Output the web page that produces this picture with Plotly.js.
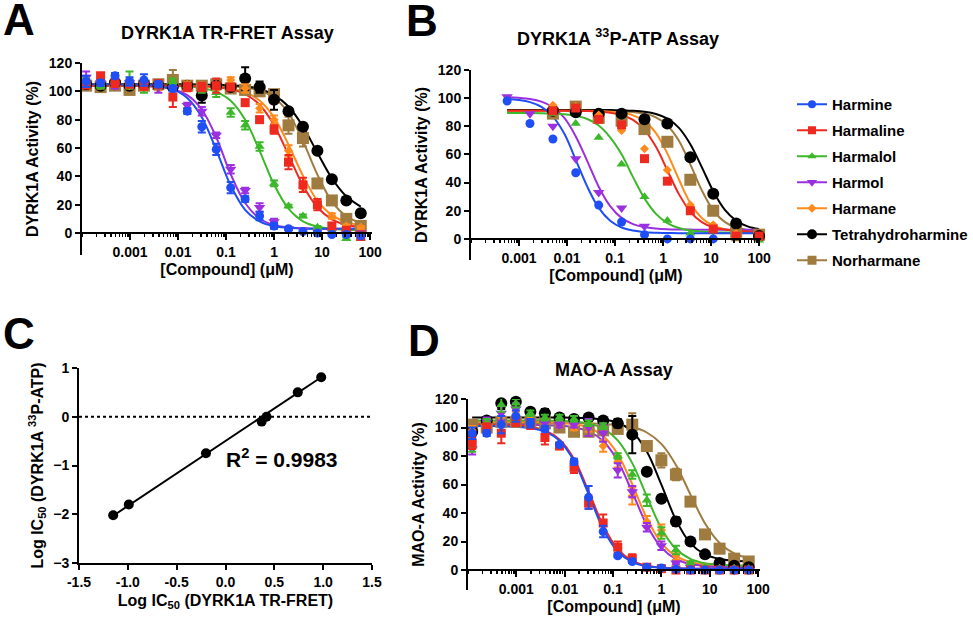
<!DOCTYPE html>
<html><head><meta charset="utf-8">
<script src="https://cdn.plot.ly/plotly-3.0.1.min.js"></script>
<style>html,body{margin:0;padding:0;background:#fff}#chart{width:973px;height:618px}</style>
</head><body><div id="chart"></div>
<script>
// ---------------- DATA ----------------
const compounds = ['Harmine','Harmaline','Harmalol','Harmol','Harmane','Tetrahydroharmine','Norharmane'];

// Panel A / D concentrations (uM), 2-fold series
const concAD = [0.000122,0.000244,0.000488,0.000977,0.00195,0.0039,0.0078,0.0156,0.03125,0.0625,0.125,0.25,0.5,1,2,4,8,16,32,64];
// Panel B concentrations (uM), 3-fold series
const concB = [0.000565,0.00169,0.00508,0.0152,0.0457,0.137,0.411,1.23,3.7,11.1,33.3,100];
const concB_fit = [0.000565,0.000978,0.00169,0.00293,0.00508,0.0088,0.0152,0.0264,0.0457,0.0792,0.137,0.237,0.411,0.712,1.23,2.14,3.7,6.41,11.1,19.2,33.3,57.6,100];

// Panel A: DYRK1A TR-FRET
const harmine_A      = [107,106,111,107,108,105,102,86,75,59,32,24,12,5,3,1,0,-1,-1,-2];
const harmine_A_err  = [4,2,2,3,4,2,2,2,4,4,4,2,3,2,1,1,1,1,1,1];
const harmaline_A    = [105,111,106,105,104,105,96,103,103,104,103,92,80,73,50,34,20,5,2,-2];
const harmaline_A_err= [3,2,3,2,3,3,7,3,3,5,2,2,2,3,5,5,4,2,2,3];
const harmalol_A     = [106,104,108,108,102,104,107,104,102,99,85,76,61,35,19,12,4,1,-4,-4];
const harmalol_A_err = [3,2,3,6,3,2,2,2,3,3,3,3,3,2,1,1,1,1,1,1];
const harmol_A       = [110,106,104,106,105,103,102,90,86,69,45,30,18,8,3,2,1,1,0,0];
const harmol_A_err   = [4,3,2,2,2,4,2,2,3,2,3,2,3,2,1,1,1,1,1,1];
const harmane_A      = [105,104,106,104,105,103,104,105,104,103,108,102,88,80,58,32,22,12,5,4];
const harmane_A_err  = [2,2,2,2,2,2,2,2,2,2,2,3,3,3,4,3,2,2,1,1];
const thh_A          = [105,104,106,104,105,104,103,104,97,104,103,109,103,94,86,75,58,38,23,14];
const thh_A_err      = [2,2,2,2,2,2,2,2,5,2,2,8,4,7,2,2,2,2,2,2];
const norharmane_A   = [104,103,104,101,104,105,108,104,104,105,102,101,100,98,76,67,35,23,10,5];
const norharmane_A_err=[2,3,2,3,2,3,7,2,2,2,2,2,2,3,6,6,3,2,2,2];

const harmine_A_fit    = [105,105,104.9,104.8,104.5,103.7,101.4,95.3,81.7,58.7,33.5,16.4,8.2,4.8,3.7,3.2,3.0,3.0,3.0,3.0];
const harmaline_A_fit  = [104,104,104,104,104,104,103.9,103.8,103.6,103.0,101.5,98.0,90.5,76.1,55.1,33.5,18.2,9.7,5.8,4.2];
const harmalol_A_fit   = [104,104,104,104,104,103.9,103.8,103.4,102.3,99.6,93.3,79.9,58.0,34.2,17.2,8.3,4.6,2.9,2.4,2.1];
const harmol_A_fit     = [104,104,104,103.9,103.7,103.1,101.5,97.3,87.2,67.6,41.5,21.2,10.3,5.7,4.0,3.3,3.1,3,3,3];
const harmane_A_fit    = [104,104,104,104,104,104,104,103.9,103.7,103.2,102.1,99.4,93.5,81.6,62.4,40.4,22.8,12.6,7.7,5.5];
const thh_A_fit        = [105,105,105,105,105,105,105,105,104.9,104.7,104.3,103.4,101.7,97.4,89.3,75.2,56.6,38.7,25.9,18.6];
const norharmane_A_fit = [104,104,104,104,104,104,104,104,104,104,103.5,102.7,100.6,95.6,84.5,64.9,41.2,22.3,11.8,7.1];

// Panel B: DYRK1A 33P-ATP
const harmine_B    = [98,82,71,47,24,12,3,0,0,0,null,null];
const harmaline_B  = [null,null,91,93,85,81,57,41,20,7,2,2];
const harmalol_B   = [null,null,89,82,72,53,30,13,4,1,0,-1];
const harmol_B     = [101,89,80,57,33,22,9,null,null,null,null,null];
const harmane_B    = [null,null,95,94,88,77,64,49,24,10,4,2];
const thh_B        = [null,null,91,90,89,89,85,82,58,32,11,2];
const norharmane_B = [null,null,89,94,86,84,78,69,42,20,5,3];

const harmine_B_fit    = [99.4,98.7,97.2,93.8,86.9,74.7,56.2,37.1,22.0,12.9,8.1,5.9,4.8,4.4,4.2,4,4,4,4,4,4,4,4];
const harmaline_B_fit  = [91,91,91,91,91,91,90.9,90.8,90.4,89.7,88.0,84.6,77.5,65.4,48.7,31.8,19.3,11.9,8.2,6.6,5.6,5.3,5.1];
const harmalol_B_fit   = [89.5,89.5,89.4,89.3,89.05,88.5,87.4,85.2,80.6,72.2,60.1,43.9,28.8,17.8,11.2,7.7,6.0,5.2,4.8,4.6,4.5,4.5,4.5];
const harmol_B_fit     = [100.6,100.2,99.4,97.5,93.5,85.9,72.8,55.3,37.1,23.3,14.9,10.5,8.4,7.4,6.9,6.7,6.6,6.5,6.5,6.5,6.5,6.5,6.5];
const harmane_B_fit    = [91,91,91,91,91,91,91,91,90.8,90.4,89.6,87.8,83.7,75.1,60.6,42.2,25.4,14.9,9.4,6.9,5.8,5.3,5.1];
const thh_B_fit        = [91.5,91.5,91.5,91.5,91.5,91.5,91.5,91.5,91.5,91.5,91.3,91,90.3,88.7,85.4,78.9,67.3,51.0,33.9,20.8,13.0,8.9,7.0];
const norharmane_B_fit = [91,91,91,91,91,91,91,91,91,90.7,90.6,90.1,89.0,86.4,80.6,69.7,52.9,34.5,20.3,12.1,8.1,6.3,5.5];

// Panel C: log IC50 correlation
const logIC50_FRET = [-1.15,-0.99,-0.20,0.37,0.42,0.74,0.98];
const logIC50_ATP  = [-2.02,-1.80,-0.75,-0.10,0.00,0.50,0.81];
const regression_x = [-1.15,0.98];
const regression_y = [-2.03,0.81];
const r2Label = 'R<sup>2</sup> = 0.9983';

// Panel D: MAO-A
const harmine_D      = [96,96,102,108,103,99,88,76,51,27,10,6,2,1.5,0.5,0,0,0,0,0];
const harmine_D_err  = [4,2,6,4,3,2,1,2,8,4,1,1,1,1,1,1,1,1,1,1];
const harmaline_D    = [89,100,96,104,102,93,87,72,47,33,16,8,2,1,0,0,0,0,0,0];
const harmaline_D_err= [4,3,7,3,3,5,1,4,4,6,4,3,1,1,1,1,1,1,1,1];
const harmalol_D     = [87,104,116,117,110,107,107,106,103,101,80,67,49,26,14,5,2,1,1,1];
const harmalol_D_err = [4,2,5,3,2,2,2,2,2,2,2,3,4,4,3,1,1,1,1,1];
const harmol_D       = [85,104,110,113,104,103,102,102,100,96,70,55,30,17,5,2,1,1,0,0];
const harmol_D_err   = [4,3,5,4,2,2,2,2,6,6,5,4,3,3,1,1,1,1,1,1];
const harmane_D      = [98,104,104,108,106,103,102,100,100,87,76,52,34,28,10,4,2,1,1,0];
const harmane_D_err  = [3,2,3,3,2,2,2,2,3,4,4,6,4,4,3,1,1,1,1,1];
const thh_D          = [97,105,117,118,111,110,107,106,107,105,103,95,69,50,34,20,11,5,3,2];
const thh_D_err      = [3,2,4,3,2,3,2,2,2,2,3,13,2,2,3,2,2,1,1,1];
const norharmane_D   = [102,100,104,104,104,103,100,97,97,98,99,102,87,77,67,48,25,15,8,6];
const norharmane_D_err=[2,2,2,2,2,2,2,3,3,2,2,8,3,5,4,3,2,2,2,2];

const harmine_D_fit    = [101,101,100.9,100.5,99.6,97.1,90.7,76.5,53.2,28.8,13.0,5.6,2.7,1.6,1.2,1,1,1,1,1];
const harmaline_D_fit  = [102,101.9,101.8,101.4,100.5,98.0,91.6,77.9,55.2,31.2,14.6,6.5,3.0,1.8,1.3,1,1,1,1,1];
const harmalol_D_fit   = [105,105,105,105,105,105,104.7,104.2,102.8,99.3,91.0,75.0,51.7,29.2,14.8,7.9,4.8,3.7,3.3,3.1];
const harmol_D_fit     = [102,102,102,102,101.9,101.7,101.3,100.2,97.3,90.5,76.5,54.6,31.6,15.7,7.7,4.2,2.9,2.3,2.1,2.0];
const harmane_D_fit    = [104,104,104,104,104,103.8,103.4,102.4,100.0,94.0,81.3,60.2,36.3,19.0,9.7,5.6,4.0,3.4,3.1,3.0];
const thh_D_fit        = [107,107,107,107,107,107,107,106.9,106.5,105.7,103.3,97.1,83.2,59.9,35.2,18.7,11.0,7.8,6.6,6.2];
const norharmane_D_fit = [103,103,103,103,103,103,103,103,103,102.5,101.8,100.3,96.5,88.5,73.7,52.9,32.7,19.0,11.7,8.4];

const xTickVals = [0.001,0.01,0.1,1,10,100];
const xTickText = ['0.001','0.01','0.1','1','10','100'];

// ---------------- STYLE ----------------
const colors  = ['#1f4ef5','#ee2a20','#3cb82a','#9b30e0','#ff8a1c','#000000','#a07b3f'];
const symbols = ['circle','square','triangle-up','triangle-down','diamond','circle','square'];
const msize   = [9,9,9,10,7,12,12];
const FONT = 'Liberation Sans, Arial, Helvetica, sans-serif';
const W = 973, H = 618;
const px = v => v / W;
const py = v => 1 - v / H;

const A_vals = [harmine_A,harmaline_A,harmalol_A,harmol_A,harmane_A,thh_A,norharmane_A];
const A_errs = [harmine_A_err,harmaline_A_err,harmalol_A_err,harmol_A_err,harmane_A_err,thh_A_err,norharmane_A_err];
const A_fits = [harmine_A_fit,harmaline_A_fit,harmalol_A_fit,harmol_A_fit,harmane_A_fit,thh_A_fit,norharmane_A_fit];
const B_vals = [harmine_B,harmaline_B,harmalol_B,harmol_B,harmane_B,thh_B,norharmane_B];
const B_fits = [harmine_B_fit,harmaline_B_fit,harmalol_B_fit,harmol_B_fit,harmane_B_fit,thh_B_fit,norharmane_B_fit];
const D_vals = [harmine_D,harmaline_D,harmalol_D,harmol_D,harmane_D,thh_D,norharmane_D];
const D_errs = [harmine_D_err,harmaline_D_err,harmalol_D_err,harmol_D_err,harmane_D_err,thh_D_err,norharmane_D_err];
const D_fits = [harmine_D_fit,harmaline_D_fit,harmalol_D_fit,harmol_D_fit,harmane_D_fit,thh_D_fit,norharmane_D_fit];

const traces = [];
function fitTrace(x, y, k, xa, ya) {
  return {x: x, y: y, xaxis: xa, yaxis: ya, type: 'scatter', mode: 'lines',
    line: {color: colors[k], width: 2, shape: 'spline', smoothing: 1},
    showlegend: false, hoverinfo: 'skip'};
}
function dataTrace(x, y, err, k, xa, ya) {
  const t = {x: x, y: y, xaxis: xa, yaxis: ya, type: 'scatter', mode: 'markers',
    marker: {symbol: symbols[k], size: msize[k], color: colors[k]},
    showlegend: false, cliponaxis: false, hoverinfo: 'skip'};
  if (err) t.error_y = {type: 'data', array: err, visible: true, color: colors[k], thickness: 2, width: 4};
  return t;
}
const order = [6,5,4,3,2,1,0];
order.forEach(k => traces.push(fitTrace(concAD, A_fits[k], k, 'x', 'y')));
order.forEach(k => traces.push(dataTrace(concAD, A_vals[k], A_errs[k], k, 'x', 'y')));
order.forEach(k => traces.push(fitTrace(concB_fit, B_fits[k], k, 'x2', 'y2')));
order.forEach(k => traces.push(dataTrace(concB, B_vals[k], null, k, 'x2', 'y2')));
order.forEach(k => traces.push(fitTrace(concAD, D_fits[k], k, 'x4', 'y4')));
order.forEach(k => traces.push(dataTrace(concAD, D_vals[k], D_errs[k], k, 'x4', 'y4')));

// Panel C
traces.push({x: regression_x, y: regression_y, xaxis: 'x3', yaxis: 'y3', mode: 'lines',
  line: {color: '#000', width: 2}, showlegend: false, hoverinfo: 'skip'});
traces.push({x: logIC50_FRET, y: logIC50_ATP, xaxis: 'x3', yaxis: 'y3', mode: 'markers',
  marker: {color: '#000', size: 10}, showlegend: false, hoverinfo: 'skip'});

// legend entries
const legSize = [8,8,8,9,7,10,9];
compounds.forEach((name, k) => {
  traces.push({x: [null], y: [null], xaxis: 'x2', yaxis: 'y2', type: 'scatter', mode: 'lines+markers',
    name: name, legendgroup: 'g' + k,
    line: {color: colors[k], width: 2},
    marker: {symbol: symbols[k], size: legSize[k], color: colors[k]}, showlegend: true});
});

const tickFont = {family: FONT, size: 14, color: '#000', weight: 'bold'};
const titleFont = {family: FONT, size: 16, color: '#000', weight: 'bold'};

function logX(domL, domR, yPos) {
  return {type: 'log', domain: [px(domL), px(domR)], range: [-4, 2.04], anchor: 'free', position: py(yPos),
    tickmode: 'array', tickvals: xTickVals, ticktext: xTickText,
    ticks: 'outside', ticklen: 6, tickwidth: 2, tickcolor: '#000',
    showline: true, linewidth: 2, linecolor: '#000', showgrid: false, zeroline: false,
    tickfont: tickFont,
    minor: {dtick: 'D1', ticks: 'outside', ticklen: 3, tickwidth: 1.5, tickcolor: '#000', showgrid: false},
    title: {text: '[Compound] (\u03bcM)', font: titleFont, standoff: 4}};
}
function actY(top, bottom, rng, anchor, title) {
  return {domain: [py(bottom), py(top)], range: rng, anchor: anchor,
    tickmode: 'array', tickvals: [0,20,40,60,80,100,120],
    ticks: 'outside', ticklen: 5, tickwidth: 2, tickcolor: '#000',
    showline: true, linewidth: 2, linecolor: '#000', showgrid: false, zeroline: false,
    tickfont: tickFont, title: {text: title, font: titleFont, standoff: 6}};
}
function note(text, x, y, size) {
  return {text: text, x: px(x), y: py(y), xref: 'paper', yref: 'paper', xanchor: 'center', yanchor: 'middle',
    showarrow: false, font: {family: FONT, size: size, weight: 'bold', color: '#000'}};
}

const layout = {
  width: W, height: H, margin: {l: 0, r: 0, t: 0, b: 0},
  paper_bgcolor: '#fff', plot_bgcolor: 'rgba(0,0,0,0)',
  font: {family: FONT, size: 14, color: '#000', weight: 'bold'},
  xaxis:  logX(82, 372, 233),
  yaxis:  actY(63, 255, [-15.5, 120], 'x', 'DYRK1A Activity (%)'),
  xaxis2: logX(471, 761, 239),
  yaxis2: actY(70, 260, [-15, 120], 'x2', 'DYRK1A Activity (%)'),
  xaxis4: logX(468, 760, 570),
  yaxis4: actY(399, 590, [-14, 120], 'x4', 'MAO-A Activity (%)'),
  xaxis3: {domain: [px(79), px(372)], range: [-1.5, 1.5], anchor: 'y3',
    tickmode: 'array', tickvals: [-1.5,-1,-0.5,0,0.5,1,1.5], ticktext: ['-1.5','-1.0','-0.5','0.0','0.5','1.0','1.5'],
    ticks: 'outside', ticklen: 5, tickwidth: 2, tickcolor: '#000',
    showline: true, linewidth: 2, linecolor: '#000', showgrid: false, zeroline: false, tickfont: tickFont,
    title: {text: 'Log IC<sub>50</sub> (DYRK1A TR-FRET)', font: titleFont, standoff: 6}},
  yaxis3: {domain: [py(563), py(368)], range: [-3, 1], anchor: 'x3',
    tickmode: 'array', tickvals: [-3,-2,-1,0,1],
    ticks: 'outside', ticklen: 5, tickwidth: 2, tickcolor: '#000',
    showline: true, linewidth: 2, linecolor: '#000', showgrid: false, zeroline: false, tickfont: tickFont,
    title: {text: 'Log IC<sub>50</sub> (DYRK1A <sup>33</sup>P-ATP)', font: titleFont, standoff: 6}},
  shapes: [
    {type: 'line', xref: 'x3', yref: 'y3', x0: -1.5, x1: 1.5, y0: 0, y1: 0, line: {color: '#000', width: 2, dash: 'dot'}, layer: 'below'}
  ],
  annotations: [
    note('A', 19, 20, 44),
    note('B', 422, 21, 44),
    note('C', 19, 333, 44),
    note('D', 424, 340, 44),
    note('DYRK1A TR-FRET Assay', 227, 33, 18),
    note('DYRK1A <sup>33</sup>P-ATP Assay', 618, 37, 18),
    note('MAO-A Assay', 614, 370, 18),
    {text: r2Label, x: 0.58, y: -0.85, xref: 'x3', yref: 'y3', xanchor: 'center', yanchor: 'middle', showarrow: false,
      font: {family: FONT, size: 21, weight: 'bold', color: '#000'}}
  ],
  showlegend: true,
  legend: {x: px(792), y: py(88), xanchor: 'left', yanchor: 'top', bgcolor: 'rgba(0,0,0,0)',
    font: {family: FONT, size: 15, color: '#000', weight: 'bold'}, tracegroupgap: 3.5, traceorder: 'grouped'}
};

Plotly.newPlot('chart', traces, layout, {staticPlot: true, displayModeBar: false});
</script></body></html>
